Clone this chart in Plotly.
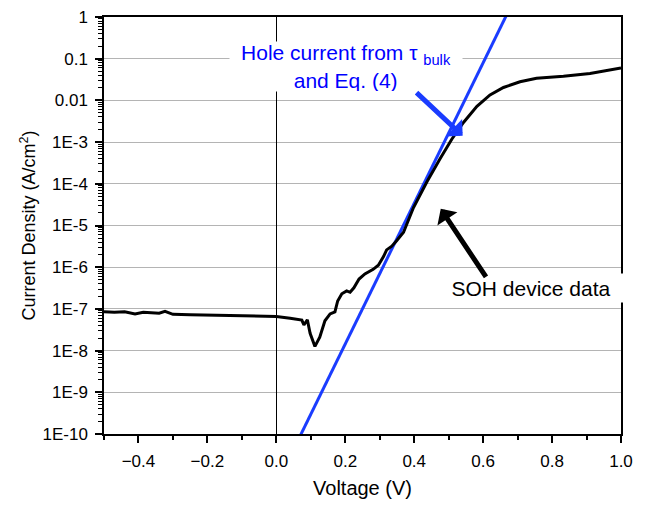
import plotly.graph_objects as go

# SOH device data (black curve)
V_dev = [-0.5, -0.47, -0.44, -0.41, -0.386, -0.36, -0.34, -0.323, -0.30, -0.25,
         -0.2, -0.15, -0.1, -0.05, 0.0, 0.04, 0.074, 0.080, 0.090, 0.098,
         0.112, 0.126, 0.141, 0.156, 0.170, 0.178, 0.19, 0.204, 0.214, 0.225,
         0.24, 0.257, 0.281, 0.296, 0.311, 0.32, 0.335, 0.349, 0.369, 0.398,
         0.437, 0.475, 0.509, 0.543, 0.582, 0.62, 0.659, 0.707, 0.755, 0.833,
         0.91, 1.0]
J_dev = [8.5e-8, 8.3e-8, 8.5e-8, 7.6e-8, 8.3e-8, 7.9e-8, 7.9e-8, 8.7e-8, 7.4e-8, 7.2e-8,
         7.1e-8, 7.1e-8, 6.9e-8, 6.8e-8, 6.6e-8, 6.0e-8, 5.4e-8, 4.1e-8, 5.5e-8, 2.6e-8,
         1.26e-8, 2.1e-8, 5.2e-8, 7.6e-8, 8.5e-8, 1.55e-7, 2.3e-7, 2.7e-7, 2.5e-7, 3.2e-7,
         5.2e-7, 6.9e-7, 8.9e-7, 1.12e-6, 1.8e-6, 2.6e-6, 3.2e-6, 4.3e-6, 6.9e-6, 2.7e-5,
         1.12e-4, 4.0e-4, 1.17e-3, 2.95e-3, 7.2e-3, 1.35e-2, 2.04e-2, 2.8e-2, 3.4e-2, 3.8e-2,
         4.4e-2, 6.0e-2]

# Hole current from tau_bulk and Eq. (4) (blue line)
V_hole = [0.054, 0.683]
J_hole = [5e-11, 2.0]

y_tickvals = [1, 0.1, 0.01, 1e-3, 1e-4, 1e-5, 1e-6, 1e-7, 1e-8, 1e-9, 1e-10]
y_ticktext = ["1", "0.1", "0.01", "1E-3", "1E-4", "1E-5", "1E-6", "1E-7", "1E-8", "1E-9", "1E-10"]
y_minor = [m * 10.0 ** e for e in range(-10, 0) for m in range(2, 10)]

FONT = "Arial, Liberation Sans, sans-serif"
BLUE_LINE = "#1a3cff"
BLUE_TEXT = "#0000ff"

fig = go.Figure()
fig.add_trace(go.Scatter(x=V_hole, y=J_hole, mode="lines",
                         line=dict(color=BLUE_LINE, width=3), showlegend=False))
fig.add_trace(go.Scatter(x=V_dev, y=J_dev, mode="lines",
                         line=dict(color="black", width=3), showlegend=False))

fig.update_layout(
    width=661, height=506,
    margin=dict(l=104, r=40, t=8, b=72),
    paper_bgcolor="white", plot_bgcolor="white",
    font=dict(family=FONT, color="black"),
    showlegend=False,
)
fig.update_xaxes(
    range=[-0.5, 1.0], dtick=0.2, tick0=0, tickformat=".1f",
    showgrid=False, zeroline=True, zerolinecolor="black", zerolinewidth=1,
    showline=True, linecolor="black", linewidth=1.5, mirror=True,
    ticks="outside", ticklen=7, tickwidth=1.5, tickcolor="black",
    ticklabelstandoff=4,
    minor=dict(dtick=0.1, ticks="outside", ticklen=4, tickwidth=1.5, tickcolor="black", showgrid=False),
    tickfont=dict(size=17, family=FONT),
    title=dict(text="Voltage (V)", font=dict(size=20, family=FONT), standoff=11),
)
fig.update_yaxes(
    type="log", range=[-10, 0],
    tickmode="array", tickvals=y_tickvals, ticktext=y_ticktext,
    showgrid=True, gridcolor="#b4b4b4", gridwidth=1,
    showline=True, linecolor="black", linewidth=1.5, mirror=True,
    ticks="outside", ticklen=7, tickwidth=1.5, tickcolor="black",
    ticklabelstandoff=4,
    minor=dict(tickvals=y_minor, ticks="outside", ticklen=4, tickwidth=1, tickcolor="black", showgrid=False),
    tickfont=dict(size=17, family=FONT),
    title=dict(text="Current Density (A/cm<sup>2</sup>)", font=dict(size=18, family=FONT), standoff=2),
)

# Labels with white boxes
fig.add_annotation(
    x=0.202, y=-1.19, xref="x", yref="y",
    text="Hole current from τ <sub>bulk</sub><br>and Eq. (4)",
    showarrow=False, font=dict(size=21, color=BLUE_TEXT, family=FONT),
    bgcolor="white", width=232, height=49, borderpad=0, align="center",
    xanchor="center", yanchor="middle",
)
fig.add_annotation(
    x=0.739, y=-6.50, xref="x", yref="y",
    text="SOH device data",
    showarrow=False, font=dict(size=21, color="black", family=FONT),
    bgcolor="white", width=184, height=28, borderpad=0, align="center",
    xanchor="center", yanchor="middle",
)
# Arrows
fig.add_annotation(
    x=0.5406, y=-2.85, ax=0.4024, ay=-1.78, xref="x", yref="y", axref="x", ayref="y",
    text="", showarrow=True, arrowhead=1, arrowsize=0.8, arrowwidth=5, arrowcolor=BLUE_LINE,
)
fig.add_annotation(
    x=0.477, y=-4.60, ax=0.6112, ay=-6.27, xref="x", yref="y", axref="x", ayref="y",
    text="", showarrow=True, arrowhead=1, arrowsize=0.8, arrowwidth=5, arrowcolor="black",
)

fig.write_html("out.html")
